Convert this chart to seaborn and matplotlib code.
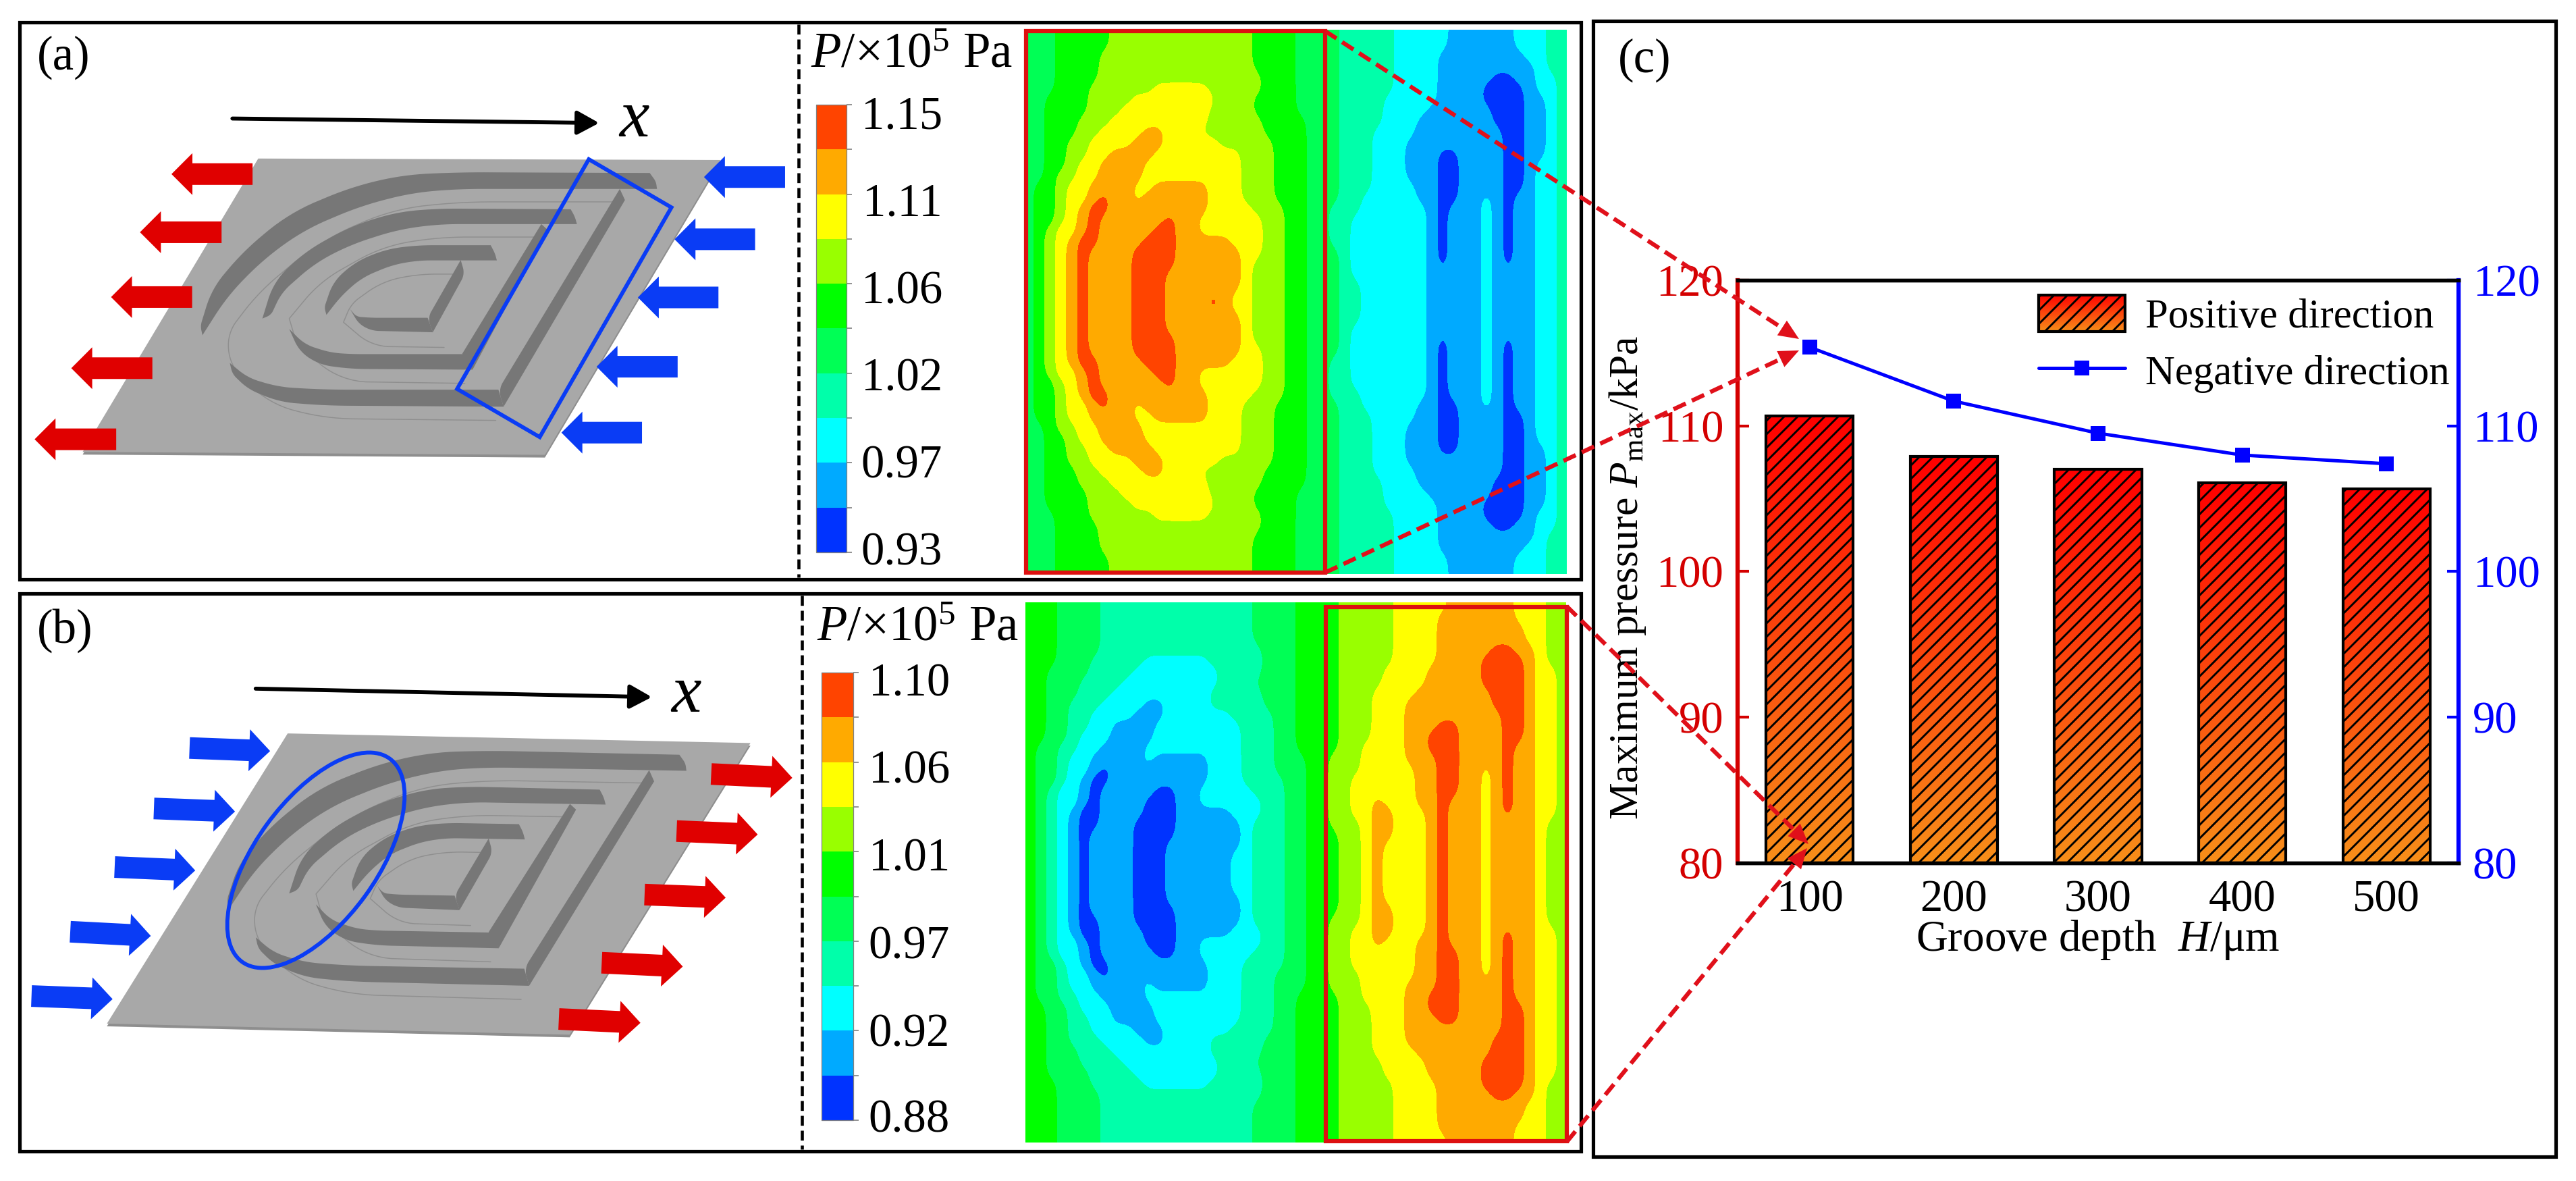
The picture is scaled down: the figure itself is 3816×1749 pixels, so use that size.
import numpy as np
import pandas as pd
import matplotlib
matplotlib.use("Agg")
import matplotlib.pyplot as plt
import seaborn as sns
from matplotlib.cm import ScalarMappable
from matplotlib.colors import BoundaryNorm, ListedColormap
from matplotlib.lines import Line2D
from matplotlib.patches import Ellipse, Patch, Polygon, Rectangle

# ---- chart data, panel (c)
groove_depth = [100, 200, 300, 400, 500]
positive_pmax = [110.7, 107.9, 107.0, 106.1, 105.7]
negative_pmax = [115.4, 111.7, 109.5, 108.0, 107.4]
pmax_ticks = [80, 90, 100, 110, 120]

# ---- pressure fields: colour band per 16 px cell, upper half only (the maps are mirrored)
levels_a = [0.93, 0.952, 0.974, 0.996, 1.018, 1.04, 1.062, 1.084, 1.106, 1.128, 1.15]
levels_b = [0.88, 0.902, 0.924, 0.946, 0.968, 0.99, 1.012, 1.034, 1.056, 1.078, 1.10]
cbar_labels_a = ["1.15", "1.11", "1.06", "1.02", "0.97", "0.93"]
cbar_labels_b = ["1.10", "1.06", "1.01", "0.97", "0.92", "0.88"]
band_colors = ["#0033FF", "#00AAFF", "#00FFFF", "#00FFAA", "#00FF55",
               "#00FF00", "#99FF00", "#FFFF00", "#FFAA00", "#FF4400"]

bands_a = [
    "4445555566666666666665555" "4444333332222211111122233",
    "4445555566666666666665555" "4444333332222211111122233",
    "4445555666666666666665555" "4444333332222111111112233",
    "4445555666666666666665555" "4444333332222111111111233",
    "4445555666666666666666555" "4444333332222111110011223",
    "4445556666667777766666555" "4444333332222111100001223",
    "4455556666777777776665555" "4444333322222111100001123",
    "4455556667777777766665555" "4444333322221111110001123",
    "4455566677777777766666555" "5444333322211111110001123",
    "4455566777788777666666555" "5444333222211111111001123",
    "4455667777888777776666655" "5444333222111111111001123",
    "4455667788887777777766655" "5444333222111001111001123",
    "4455677888877777777766655" "5444333222111001111001223",
    "4456677888877777777766655" "5444333222111001111001223",
    "4556778888778888877766655" "5444333222211001111001223",
    "4556778988788888877766655" "5444332222211001121011223",
    "4556789988888888877776665" "5443332222221011121011223",
    "4556789888888988777777665" "5443322222221011121011223",
    "4567789888889988777777665" "5443322222221011121011223",
    "4567899888899988888777665" "5443322222221011121011223",
    "4567898888999988888877665" "5444322222221011121011223",
    "4567898888999988888876665" "5444322222221011121011223",
    "4567898888999888888876665" "5444322222221111121111223",
    "4567898888999888888876665" "5444332222221111121111223",
    "4567898888999888898776665" "5444332222221111121111223",
]

bands_b = [
    "5554444333333333333334444" "5555666667777788888877766",
    "5554444333333333333334444" "5555666667777888888877766",
    "5554444333333333333334444" "5555666667777888888887766",
    "5554444333333333333334444" "5555666667777888888887766",
    "5554444333333333333333444" "5555666667777888889988766",
    "5554443333322222233333444" "5555666667777888899998766",
    "5544443333222222223333444" "5555666677778888899998776",
    "5544433332222222223334444" "5555666677778888899998776",
    "5544433322222222233333444" "5555666777788888889998776",
    "5544333222211222233333444" "5555666777888888889998776",
    "5544332222111222222333344" "5555666777888888888998776",
    "5544332211112222222233344" "5555666777888998888998776",
    "5544322211112222222233344" "5555666777889998888998776",
    "5443322111122222222233344" "5555667777889998888988776",
    "5443221111121111122233344" "4556667777888998888988776",
    "5443221011211111122233344" "4556667777788998878988776",
    "5443210011111111122233334" "4556677777788998878988776",
    "5432210111110011222223334" "4556677777788998878988776",
    "5432210111100011222222334" "4556677877788988878988776",
    "5432100111100011111222334" "4556677887778988878988776",
    "5432100111000011111123334" "4556667887778988878888766",
    "5432101111000011111123334" "4555667887778988878888766",
    "5432101111000111111123334" "4555667877778988878888766",
    "5432101111000111111223334" "4555667877778988878888766",
    "5432101111000111111223334" "4555667877778988878888766",
]

# ---- plate sketch outlines, traced in crop coordinates of panel (a)
plate_corners = [(500, 428), (1395, 432), (1055, 1228), (160, 1220)]
plate_corners_b = [(557, 398), (1453, 425), (1103, 1185), (207, 1158)]
groove_walls = [
    [(1258, 467), (890, 465), (780, 472), (680, 505), (560, 575), (470, 680), (410, 780), (388, 880),
     (392, 905), (440, 800), (510, 700), (590, 620), (700, 555), (800, 520), (890, 510), (1272, 510), (1270, 490)],
    [(445, 980), (480, 1020), (540, 1045), (630, 1052), (965, 1052), (975, 1098), (630, 1095), (540, 1085),
     (480, 1050), (450, 1010)],
    [(1200, 510), (1210, 540), (975, 1098), (965, 1052)],
    [(1105, 565), (850, 563), (770, 572), (680, 610), (590, 680), (530, 760), (508, 860), (525, 850), (545, 790),
     (610, 710), (680, 660), (770, 620), (850, 605), (1117, 605), (1113, 585)],
    [(560, 888), (590, 930), (640, 952), (680, 956), (900, 956), (915, 998), (680, 996), (620, 985), (580, 950)],
    [(1048, 605), (1060, 620), (915, 998), (895, 955)],
    [(950, 662), (810, 662), (750, 672), (690, 705), (645, 760), (628, 830), (632, 850), (660, 800), (700, 750),
     (760, 715), (810, 703), (962, 703), (958, 683)],
    [(678, 835), (690, 855), (720, 858), (828, 858), (838, 897), (720, 893), (695, 875)],
    [(892, 702), (900, 740), (838, 897), (828, 858)],
]
groove_faint = [
    [(1190, 545), (890, 545), (760, 565), (620, 650), (500, 790), (440, 900), (445, 985), (520, 1090), (630, 1130), (960, 1135)],
    [(1040, 640), (850, 640), (740, 665), (620, 760), (560, 860), (575, 930), (660, 1030), (900, 1035)],
    [(895, 740), (810, 740), (740, 760), (680, 820), (665, 870), (720, 935), (860, 938)],
]
red_arrows_a = [((225, 1186), (67, 1186)), ((295, 994), (138, 994)), ((372, 802), (215, 802)),
                ((429, 627), (271, 627)), ((489, 470), (332, 470))]
blue_arrows_a = [((1520, 478), (1363, 478)), ((1462, 646), (1306, 646)), ((1391, 803), (1235, 803)),
                 ((1312, 990), (1155, 990)), ((1243, 1168), (1087, 1168))]
blue_arrows_b = [((61, 1085), (218, 1093)), ((136, 917), (292, 928)), ((222, 748), (378, 757)),
                 ((298, 595), (455, 603)), ((367, 437), (523, 445))]
red_arrows_b = [((1377, 505), (1534, 515)), ((1310, 654), (1467, 663)), ((1248, 820), (1405, 828)),
                ((1165, 998), (1322, 1008)), ((1082, 1145), (1240, 1155))]

GROOVE_COLOR = "#777777"
PLATE_COLOR = "#A8A8A8"
RED = "#E00000"
BLUE = "#0A3CF5"
AXIS_RED = "#D40000"
AXIS_BLUE = "#0000FF"

sns.set_theme(style="white")
plt.rcParams.update({
    "font.family": ["Liberation Serif", "DejaVu Serif"],
    "mathtext.fontset": "custom",
    "mathtext.rm": "Liberation Serif",
    "mathtext.it": "Liberation Serif:italic",
    "hatch.linewidth": 0.7,
    "axes.linewidth": 1.3,
})

W, H = 3816, 1749
fig = plt.figure(figsize=(W / 300, H / 300), dpi=300)


def axes_px(x0, y0, x1, y1, **kwargs):
    return fig.add_axes([x0 / W, 1 - y1 / H, (x1 - x0) / W, (y1 - y0) / H], **kwargs)


def crop_a(pts):
    return [(x / 1.307, y / 1.823) for x, y in pts]


def crop_b(pts):
    return [(x / 1.307, 860 + y / 1.764) for x, y in pts]


canvas = axes_px(0, 0, W, H, zorder=5)
canvas.set_xlim(0, W)
canvas.set_ylim(H, 0)
canvas.axis("off")


def round_corners(pts, closed=True, passes=3, max_turn=50):
    # corner cutting on the curved stretches only, sharp corners (groove ends) stay as they are
    pts = np.array(pts, float)
    for _ in range(passes):
        out = []
        n = len(pts)
        for i in range(n):
            if not closed and i in (0, n - 1):
                out.append(pts[i])
                continue
            prev_v = pts[i - 1] - pts[i]
            next_v = pts[(i + 1) % n] - pts[i]
            len_p, len_n = np.linalg.norm(prev_v), np.linalg.norm(next_v)
            turn = 180 - np.degrees(np.arccos(np.clip(prev_v @ next_v / (len_p * len_n), -1, 1)))
            if turn > max_turn:
                out.append(pts[i])
                continue
            cut = 0.25 * min(len_p, len_n)
            out.append(pts[i] + prev_v / len_p * cut)
            out.append(pts[i] + next_v / len_n * cut)
        pts = np.array(out)
    return pts


def block_arrow(tail, tip, color):
    tail, tip = np.array(tail, float), np.array(tip, float)
    d = (tip - tail) / np.linalg.norm(tip - tail)
    n = np.array([-d[1], d[0]])
    neck = tip - d * 31
    pts = [tail + n * 16, neck + n * 16, neck + n * 31, tip, neck - n * 31, neck - n * 16, tail - n * 16]
    canvas.add_patch(Polygon(pts, closed=True, fc=color, ec="none", zorder=4))


def draw_plate(transform, corners):
    c = np.array(transform(corners))
    edge = c + np.array([0, 4])
    canvas.add_patch(Polygon(edge, closed=True, fc="#8E8E8E", ec="none", zorder=1))
    canvas.add_patch(Polygon(c, closed=True, fc=PLATE_COLOR, ec="none", zorder=1.1))
    for wall in groove_walls:
        canvas.add_patch(Polygon(round_corners(transform(wall)), closed=True, fc=GROOVE_COLOR, ec="none", zorder=2))
    for line in groove_faint:
        pts = round_corners(transform(line), closed=False)
        canvas.plot(pts[:, 0], pts[:, 1], color="#8F8F8F", lw=0.35, zorder=1.5)


def gauss(sigma, radius):
    k = np.exp(-0.5 * (np.arange(-radius, radius + 1) / sigma) ** 2)
    return k / k.sum()


def soften(mask, sub=4, sigma_x=2.0, sigma_y=3.5):
    # fine grid of one colour band; softened more along y, the iso-lines there run mostly vertical
    fine = np.repeat(np.repeat(mask.astype(float), sub, axis=0), sub, axis=1)
    radius = 12
    fine = np.pad(fine, radius, mode="edge")
    fine = np.apply_along_axis(lambda v: np.convolve(v, gauss(sigma_y, radius), mode="same"), 0, fine)
    fine = np.apply_along_axis(lambda v: np.convolve(v, gauss(sigma_x, radius), mode="same"), 1, fine)
    return fine[radius:-radius, radius:-radius]


def draw_field(bands, x0, x1, y0, y1):
    half = np.array([[int(c) for c in row] for row in bands])
    field = np.vstack([half, half[::-1]])
    canvas.add_patch(Rectangle((x0, y0), x1 - x0, y1 - y0, fc=band_colors[0], ec="none", zorder=1))
    for k in range(1, len(band_colors)):
        fine = soften(field >= k)
        xs = np.linspace(x0, x1, fine.shape[1])
        ys = np.linspace(y0, y1, fine.shape[0])
        canvas.contourf(xs, ys, fine, levels=[0.5, 2], colors=[band_colors[k]], zorder=1)


def draw_colorbar(levels, box, labels, label_ys, label_x):
    cax = axes_px(*box, zorder=4)
    sm = ScalarMappable(norm=BoundaryNorm(levels, len(band_colors)), cmap=ListedColormap(band_colors))
    cbar = fig.colorbar(sm, cax=cax, ticks=levels, spacing="proportional")
    cbar.ax.tick_params(length=2, width=0.4, color="#808080", labelright=False, right=True)
    cbar.outline.set_linewidth(0.3)
    cbar.outline.set_edgecolor("#808080")
    for text, y in zip(labels, label_ys):
        canvas.text(label_x, y, text, ha="right", va="center", fontsize=16.5, color="black")


# ---- frames and dividers
for (x0, y0, x1, y1) in [(29, 33, 2342, 858), (29, 879, 2342, 1705), (2360, 31, 3786, 1713)]:
    canvas.add_patch(Rectangle((x0, y0), x1 - x0, y1 - y0, fc="none", ec="black", lw=1.25, zorder=1))
canvas.plot([1183, 1183], [36, 855], color="black", lw=1.1, linestyle=(0, (3.2, 1.6)))
canvas.plot([1188, 1188], [882, 1702], color="black", lw=1.1, linestyle=(0, (3.2, 1.6)))

# ---- panel labels
canvas.text(55, 85, "(a)", fontsize=17, va="center", color="black")
canvas.text(55, 934, "(b)", fontsize=17, va="center", color="black")
canvas.text(2397, 89, "(c)", fontsize=17, va="center", color="black")

# ---- panel (a) sketch
draw_plate(crop_a, plate_corners)
for tail, tip in red_arrows_a:
    block_arrow(*crop_a([tail, tip]), RED)
for tail, tip in blue_arrows_a:
    block_arrow(*crop_a([tail, tip]), BLUE)
canvas.add_patch(Polygon(crop_a([(1140, 430), (1300, 560), (1045, 1180), (885, 1050)]), closed=True,
                         fc="none", ec=BLUE, lw=1.4, zorder=3))
(p0, p1) = crop_a([(450, 320), (1160, 332)])
canvas.annotate("", xy=p1, xytext=p0, arrowprops=dict(arrowstyle="-|>,head_length=0.55,head_width=0.3",
                                                      color="black", lw=1.4, shrinkA=0, shrinkB=0))
canvas.text(*crop_a([(1228, 325)])[0], "x", style="italic", fontsize=24, ha="center", va="center", color="black")


# ---- panel (b) sketch, same plate under another view
src = np.c_[np.array(crop_a(plate_corners)), np.ones(4)]
dst = np.array(crop_b(plate_corners_b))
view_b = np.linalg.lstsq(src, dst, rcond=None)[0]


def to_b(pts):
    a_pts = np.array(crop_a(pts))
    return (np.c_[a_pts, np.ones(len(a_pts))] @ view_b).tolist()


draw_plate(to_b, plate_corners)
for tail, tip in blue_arrows_b:
    block_arrow(*crop_b([tail, tip]), BLUE)
for tail, tip in red_arrows_b:
    block_arrow(*crop_b([tail, tip]), RED)
canvas.add_patch(Ellipse((468, 1274), 372, 180, angle=-54, fc="none", ec=BLUE, lw=1.4, zorder=3))
(p0, p1) = crop_b([(495, 282), (1262, 304)])
canvas.annotate("", xy=p1, xytext=p0, arrowprops=dict(arrowstyle="-|>,head_length=0.55,head_width=0.3",
                                                      color="black", lw=1.4, shrinkA=0, shrinkB=0))
canvas.text(*crop_b([(1328, 300)])[0], "x", style="italic", fontsize=24, ha="center", va="center", color="black")

# ---- pressure maps with their colour bars
draw_field(bands_a, 1517, 2321, 44, 850)
draw_field(bands_b, 1519, 2320, 892, 1692)
draw_colorbar(levels_a, (1209, 155, 1254, 818), cbar_labels_a, [174, 303, 433, 562, 691, 820], 1396)
draw_colorbar(levels_b, (1217, 996, 1264, 1659), cbar_labels_b, [1014, 1143, 1273, 1403, 1533, 1660], 1407)
canvas.text(1201, 82, r"$P$/$\times$10$^{5}$ Pa", fontsize=17.5, va="center", color="black")
canvas.text(1210, 931, r"$P$/$\times$10$^{5}$ Pa", fontsize=17.5, va="center", color="black")
canvas.add_patch(Rectangle((1520, 46), 443, 802, fc="none", ec="#DD1010", lw=1.5, zorder=3))
canvas.add_patch(Rectangle((1964, 899), 357, 791, fc="none", ec="#DD1010", lw=1.5, zorder=3))

# ---- panel (c)
df = pd.DataFrame({"depth": groove_depth, "positive": positive_pmax, "negative": negative_pmax})
ax = axes_px(2574, 415, 3642, 1278, zorder=2)
sns.barplot(data=df, x="depth", y="positive", ax=ax, width=0.605, color="white",
            edgecolor="black", linewidth=1.0, zorder=2)
top_rgb = np.array([1.0, 0.0, 0.0])
bottom_rgb = np.array([0.97, 0.56, 0.10])
ramp = top_rgb + np.linspace(0, 1, 256)[:, None, None] * (bottom_rgb - top_rgb)
for bar in ax.patches:
    bar.set_facecolor("none")
    bar.set_hatch("/////")
    ax.imshow(ramp, extent=[bar.get_x(), bar.get_x() + bar.get_width(), 80, bar.get_height()],
              aspect="auto", zorder=1)
ax.set_xlim(-0.5, 4.5)
ax.set_ylim(80, 120)
ax.set_yticks(pmax_ticks)
ax.set_xticks(range(len(groove_depth)), [str(d) for d in groove_depth])
ax.tick_params(axis="x", direction="in", length=2.5, width=1, pad=6, labelsize=16, colors="black", bottom=True)
ax.tick_params(axis="y", direction="in", length=4, width=1, pad=5, labelsize=16, colors=AXIS_RED, left=True)
ax.spines["left"].set_color(AXIS_RED)
ax.spines["right"].set_visible(False)
ax.set_xlabel(r"Groove depth  $H$/μm", fontsize=15.6, va="center", color="black")
ax.xaxis.set_label_coords(0.5, -0.132)
ax.set_ylabel(r"Maximum pressure $P_{\mathrm{max}}$/kPa", fontsize=14.8, va="center", color="black")
ax.yaxis.set_label_coords(-0.1526, 0.49)

ax2 = ax.twinx()
ax2.patch.set_visible(False)
sns.lineplot(x=np.arange(len(groove_depth)), y=negative_pmax, ax=ax2, color=AXIS_BLUE, lw=1.2,
             marker="s", markersize=5.2, markeredgewidth=0, zorder=3)
ax2.set_xlim(-0.5, 4.5)
ax2.set_ylim(80, 120)
ax2.set_yticks(pmax_ticks)
ax2.tick_params(axis="y", direction="in", length=4, width=1, pad=5, labelsize=16, colors=AXIS_BLUE, right=True)
ax2.spines["right"].set_color(AXIS_BLUE)
ax2.spines["right"].set_linewidth(1.5)
ax2.spines["left"].set_visible(False)
ax.spines["left"].set_linewidth(1.5)
ax2.spines["top"].set_color("black")
ax2.spines["bottom"].set_color("black")

legend_handles = [Patch(facecolor="none", edgecolor="black", hatch="/////", lw=1.0),
                  Line2D([], [], color=AXIS_BLUE, lw=1.2, marker="s", markersize=5.2, markeredgewidth=0)]
leg = ax2.legend(legend_handles, ["Positive direction", "Negative direction"], loc="upper left",
                 bbox_to_anchor=(0.4176, 0.9745), frameon=False, fontsize=14.6, borderpad=0, borderaxespad=0,
                 handlelength=2.1, handleheight=1.0, handletextpad=0.5, labelspacing=0.38)
for t in leg.get_texts():
    t.set_color("black")
fig.canvas.draw()
swatch = leg.get_patches()[0].get_window_extent()
(sx0, sy0), (sx1, sy1) = ax2.transData.inverted().transform([(swatch.x0, swatch.y0), (swatch.x1, swatch.y1)])
ax2.imshow(ramp, extent=[sx0, sx1, sy0, sy1], aspect="auto", zorder=2)
ax2.set_xlim(-0.5, 4.5)
ax2.set_ylim(80, 120)

# ---- dashed links between the maps and the chart
links = [((1963, 46), (2665, 502)), ((1963, 848), (2665, 519)),
         ((2321, 898), (2679, 1250)), ((2321, 1691), (2677, 1256))]
for start, tip in links:
    start, tip = np.array(start, float), np.array(tip, float)
    d = (tip - start) / np.linalg.norm(tip - start)
    n = np.array([-d[1], d[0]])
    neck = tip - d * 30
    canvas.plot([start[0], neck[0]], [start[1], neck[1]], color="#E0101A", lw=1.5, linestyle=(0, (3.2, 1.6)), zorder=6)
    canvas.add_patch(Polygon([tip, neck + n * 13, neck - n * 13], closed=True, fc="#E0101A", ec="none", zorder=6))

canvas.set_xlim(0, W)
canvas.set_ylim(H, 0)
fig.savefig("out.png", dpi=300, facecolor="white")
plt.close(fig)
